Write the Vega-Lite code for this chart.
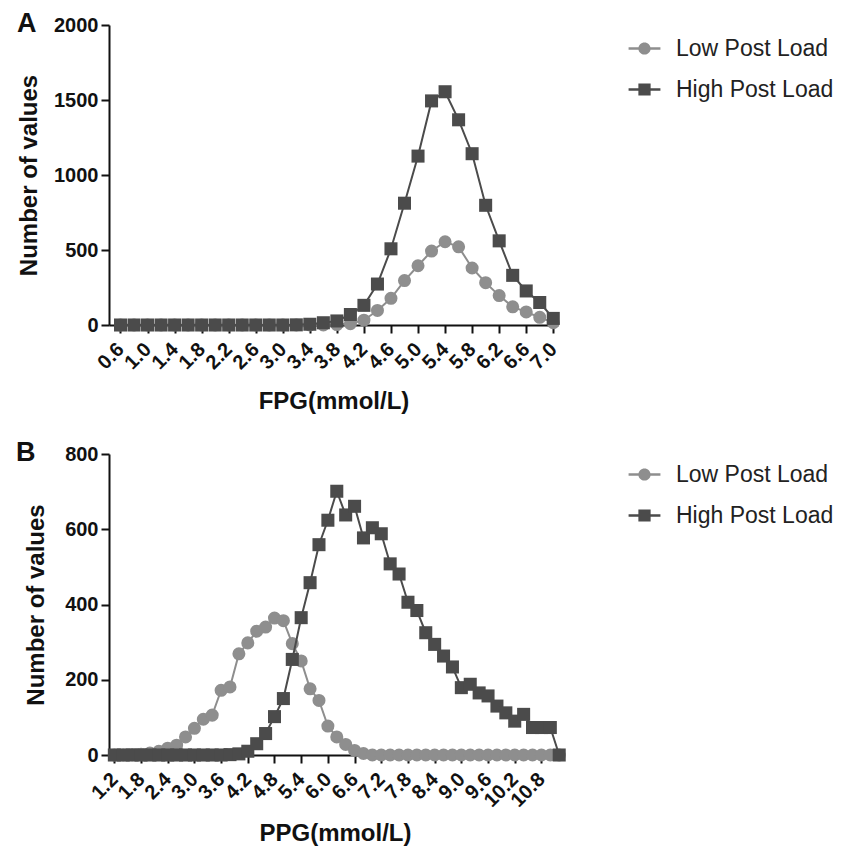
{
  "$schema": "https://vega.github.io/schema/vega-lite/v6.json",
  "background": "white",
  "padding": {"left": 16, "top": 10, "right": 5, "bottom": 5},
  "config": {
    "font": "Liberation Sans",
    "view": {"stroke": null},
    "axis": {
      "grid": false,
      "domainColor": "#111111",
      "domainWidth": 2,
      "tickColor": "#111111",
      "tickWidth": 2,
      "tickSize": 8,
      "labelFont": "Liberation Sans",
      "labelFontSize": 20,
      "labelFontWeight": "bold",
      "labelColor": "#111111",
      "labelPadding": 3,
      "labelOverlap": false,
      "titleFont": "Liberation Sans",
      "titleFontSize": 24,
      "titleFontWeight": "bold",
      "titleColor": "#111111"
    },
    "title": {
      "font": "Liberation Sans",
      "fontSize": 27,
      "fontWeight": "bold",
      "color": "#111111",
      "anchor": "start",
      "frame": "bounds",
      "offset": -23,
      "baseline": "alphabetic"
    }
  },
  "datasets": {
    "fpg": [
      {"x": 0.6, "series": "Low Post Load", "n": 0}, {"x": 0.8, "series": "Low Post Load", "n": 0},
      {"x": 1.0, "series": "Low Post Load", "n": 0}, {"x": 1.2, "series": "Low Post Load", "n": 0},
      {"x": 1.4, "series": "Low Post Load", "n": 0}, {"x": 1.6, "series": "Low Post Load", "n": 0},
      {"x": 1.8, "series": "Low Post Load", "n": 0}, {"x": 2.0, "series": "Low Post Load", "n": 0},
      {"x": 2.2, "series": "Low Post Load", "n": 0}, {"x": 2.4, "series": "Low Post Load", "n": 0},
      {"x": 2.6, "series": "Low Post Load", "n": 0}, {"x": 2.8, "series": "Low Post Load", "n": 0},
      {"x": 3.0, "series": "Low Post Load", "n": 0}, {"x": 3.2, "series": "Low Post Load", "n": 0},
      {"x": 3.4, "series": "Low Post Load", "n": 0}, {"x": 3.6, "series": "Low Post Load", "n": 0},
      {"x": 3.8, "series": "Low Post Load", "n": 3}, {"x": 4.0, "series": "Low Post Load", "n": 9},
      {"x": 4.2, "series": "Low Post Load", "n": 32}, {"x": 4.4, "series": "Low Post Load", "n": 97},
      {"x": 4.6, "series": "Low Post Load", "n": 178}, {"x": 4.8, "series": "Low Post Load", "n": 296},
      {"x": 5.0, "series": "Low Post Load", "n": 395}, {"x": 5.2, "series": "Low Post Load", "n": 493},
      {"x": 5.4, "series": "Low Post Load", "n": 555}, {"x": 5.6, "series": "Low Post Load", "n": 521},
      {"x": 5.8, "series": "Low Post Load", "n": 380}, {"x": 6.0, "series": "Low Post Load", "n": 282},
      {"x": 6.2, "series": "Low Post Load", "n": 196}, {"x": 6.4, "series": "Low Post Load", "n": 121},
      {"x": 6.6, "series": "Low Post Load", "n": 87}, {"x": 6.8, "series": "Low Post Load", "n": 51},
      {"x": 7.0, "series": "Low Post Load", "n": 15},
      {"x": 0.6, "series": "High Post Load", "n": 0}, {"x": 0.8, "series": "High Post Load", "n": 0},
      {"x": 1.0, "series": "High Post Load", "n": 0}, {"x": 1.2, "series": "High Post Load", "n": 0},
      {"x": 1.4, "series": "High Post Load", "n": 0}, {"x": 1.6, "series": "High Post Load", "n": 0},
      {"x": 1.8, "series": "High Post Load", "n": 0}, {"x": 2.0, "series": "High Post Load", "n": 0},
      {"x": 2.2, "series": "High Post Load", "n": 0}, {"x": 2.4, "series": "High Post Load", "n": 0},
      {"x": 2.6, "series": "High Post Load", "n": 0}, {"x": 2.8, "series": "High Post Load", "n": 0},
      {"x": 3.0, "series": "High Post Load", "n": 0}, {"x": 3.2, "series": "High Post Load", "n": 1},
      {"x": 3.4, "series": "High Post Load", "n": 5}, {"x": 3.6, "series": "High Post Load", "n": 15},
      {"x": 3.8, "series": "High Post Load", "n": 27}, {"x": 4.0, "series": "High Post Load", "n": 70},
      {"x": 4.2, "series": "High Post Load", "n": 131}, {"x": 4.4, "series": "High Post Load", "n": 273},
      {"x": 4.6, "series": "High Post Load", "n": 508}, {"x": 4.8, "series": "High Post Load", "n": 812},
      {"x": 5.0, "series": "High Post Load", "n": 1126}, {"x": 5.2, "series": "High Post Load", "n": 1494},
      {"x": 5.4, "series": "High Post Load", "n": 1555}, {"x": 5.6, "series": "High Post Load", "n": 1368},
      {"x": 5.8, "series": "High Post Load", "n": 1142}, {"x": 6.0, "series": "High Post Load", "n": 798},
      {"x": 6.2, "series": "High Post Load", "n": 561}, {"x": 6.4, "series": "High Post Load", "n": 331},
      {"x": 6.6, "series": "High Post Load", "n": 227}, {"x": 6.8, "series": "High Post Load", "n": 150},
      {"x": 7.0, "series": "High Post Load", "n": 44}
    ],
    "ppg": [
      {"x": 1.2, "series": "Low Post Load", "n": 0}, {"x": 1.4, "series": "Low Post Load", "n": 0},
      {"x": 1.6, "series": "Low Post Load", "n": 1}, {"x": 1.8, "series": "Low Post Load", "n": 2},
      {"x": 2.0, "series": "Low Post Load", "n": 5}, {"x": 2.2, "series": "Low Post Load", "n": 10},
      {"x": 2.4, "series": "Low Post Load", "n": 18}, {"x": 2.6, "series": "Low Post Load", "n": 26},
      {"x": 2.8, "series": "Low Post Load", "n": 48}, {"x": 3.0, "series": "Low Post Load", "n": 71},
      {"x": 3.2, "series": "Low Post Load", "n": 95}, {"x": 3.4, "series": "Low Post Load", "n": 106},
      {"x": 3.6, "series": "Low Post Load", "n": 172}, {"x": 3.8, "series": "Low Post Load", "n": 181},
      {"x": 4.0, "series": "Low Post Load", "n": 269}, {"x": 4.2, "series": "Low Post Load", "n": 298},
      {"x": 4.4, "series": "Low Post Load", "n": 329}, {"x": 4.6, "series": "Low Post Load", "n": 340},
      {"x": 4.8, "series": "Low Post Load", "n": 364}, {"x": 5.0, "series": "Low Post Load", "n": 357},
      {"x": 5.2, "series": "Low Post Load", "n": 296}, {"x": 5.4, "series": "Low Post Load", "n": 250},
      {"x": 5.6, "series": "Low Post Load", "n": 176}, {"x": 5.8, "series": "Low Post Load", "n": 145},
      {"x": 6.0, "series": "Low Post Load", "n": 77}, {"x": 6.2, "series": "Low Post Load", "n": 48},
      {"x": 6.4, "series": "Low Post Load", "n": 28}, {"x": 6.6, "series": "Low Post Load", "n": 12},
      {"x": 6.8, "series": "Low Post Load", "n": 4}, {"x": 7.0, "series": "Low Post Load", "n": 0},
      {"x": 7.2, "series": "Low Post Load", "n": 0}, {"x": 7.4, "series": "Low Post Load", "n": 0},
      {"x": 7.6, "series": "Low Post Load", "n": 0}, {"x": 7.8, "series": "Low Post Load", "n": 0},
      {"x": 8.0, "series": "Low Post Load", "n": 0}, {"x": 8.2, "series": "Low Post Load", "n": 0},
      {"x": 8.4, "series": "Low Post Load", "n": 0}, {"x": 8.6, "series": "Low Post Load", "n": 0},
      {"x": 8.8, "series": "Low Post Load", "n": 0}, {"x": 9.0, "series": "Low Post Load", "n": 0},
      {"x": 9.2, "series": "Low Post Load", "n": 0}, {"x": 9.4, "series": "Low Post Load", "n": 0},
      {"x": 9.6, "series": "Low Post Load", "n": 0}, {"x": 9.8, "series": "Low Post Load", "n": 0},
      {"x": 10.0, "series": "Low Post Load", "n": 0}, {"x": 10.2, "series": "Low Post Load", "n": 0},
      {"x": 10.4, "series": "Low Post Load", "n": 0}, {"x": 10.6, "series": "Low Post Load", "n": 0},
      {"x": 10.8, "series": "Low Post Load", "n": 0}, {"x": 11.0, "series": "Low Post Load", "n": 0},
      {"x": 11.2, "series": "Low Post Load", "n": 0},
      {"x": 1.2, "series": "High Post Load", "n": 0}, {"x": 1.4, "series": "High Post Load", "n": 0},
      {"x": 1.6, "series": "High Post Load", "n": 0}, {"x": 1.8, "series": "High Post Load", "n": 0},
      {"x": 2.0, "series": "High Post Load", "n": 0}, {"x": 2.2, "series": "High Post Load", "n": 0},
      {"x": 2.4, "series": "High Post Load", "n": 0}, {"x": 2.6, "series": "High Post Load", "n": 0},
      {"x": 2.8, "series": "High Post Load", "n": 0}, {"x": 3.0, "series": "High Post Load", "n": 0},
      {"x": 3.2, "series": "High Post Load", "n": 0}, {"x": 3.4, "series": "High Post Load", "n": 0},
      {"x": 3.6, "series": "High Post Load", "n": 0}, {"x": 3.8, "series": "High Post Load", "n": 1},
      {"x": 4.0, "series": "High Post Load", "n": 3}, {"x": 4.2, "series": "High Post Load", "n": 10},
      {"x": 4.4, "series": "High Post Load", "n": 30}, {"x": 4.6, "series": "High Post Load", "n": 57},
      {"x": 4.8, "series": "High Post Load", "n": 102}, {"x": 5.0, "series": "High Post Load", "n": 150},
      {"x": 5.2, "series": "High Post Load", "n": 254}, {"x": 5.4, "series": "High Post Load", "n": 365},
      {"x": 5.6, "series": "High Post Load", "n": 458}, {"x": 5.8, "series": "High Post Load", "n": 559},
      {"x": 6.0, "series": "High Post Load", "n": 624}, {"x": 6.2, "series": "High Post Load", "n": 701},
      {"x": 6.4, "series": "High Post Load", "n": 638}, {"x": 6.6, "series": "High Post Load", "n": 661},
      {"x": 6.8, "series": "High Post Load", "n": 577}, {"x": 7.0, "series": "High Post Load", "n": 604},
      {"x": 7.2, "series": "High Post Load", "n": 588}, {"x": 7.4, "series": "High Post Load", "n": 508},
      {"x": 7.6, "series": "High Post Load", "n": 481}, {"x": 7.8, "series": "High Post Load", "n": 406},
      {"x": 8.0, "series": "High Post Load", "n": 384}, {"x": 8.2, "series": "High Post Load", "n": 325},
      {"x": 8.4, "series": "High Post Load", "n": 294}, {"x": 8.6, "series": "High Post Load", "n": 263},
      {"x": 8.8, "series": "High Post Load", "n": 234}, {"x": 9.0, "series": "High Post Load", "n": 179},
      {"x": 9.2, "series": "High Post Load", "n": 188}, {"x": 9.4, "series": "High Post Load", "n": 165},
      {"x": 9.6, "series": "High Post Load", "n": 157}, {"x": 9.8, "series": "High Post Load", "n": 130},
      {"x": 10.0, "series": "High Post Load", "n": 112}, {"x": 10.2, "series": "High Post Load", "n": 90},
      {"x": 10.4, "series": "High Post Load", "n": 108}, {"x": 10.6, "series": "High Post Load", "n": 73},
      {"x": 10.8, "series": "High Post Load", "n": 73}, {"x": 11.0, "series": "High Post Load", "n": 73},
      {"x": 11.2, "series": "High Post Load", "n": 0}
    ]
  },
  "columns": 1,
  "spacing": 25,
  "resolve": {
    "scale": {"color": "independent", "shape": "independent"},
    "legend": {"color": "independent", "shape": "independent"}
  },
  "concat": [
    {
      "title": {"text": "A"},
      "width": 449,
      "height": 300,
      "data": {"name": "fpg"},
      "encoding": {
        "x": {
          "field": "x", "type": "quantitative",
          "scale": {"domain": [0.43, 7.07], "nice": false, "zero": false},
          "axis": {"title": "FPG(mmol/L)", "values": [0.6, 1.0, 1.4, 1.8, 2.2, 2.6, 3.0, 3.4, 3.8, 4.2, 4.6, 5.0, 5.4, 5.8, 6.2, 6.6, 7.0], "format": ".1f", "labelAngle": -45, "labelAlign": "right", "labelBaseline": "middle", "titlePadding": 17, "labelPadding": 13}
        },
        "y": {
          "field": "n", "type": "quantitative",
          "scale": {"domain": [0, 2000], "nice": false},
          "axis": {"title": "Number of values", "values": [0, 500, 1000, 1500, 2000], "format": "d", "titlePadding": 12.5}
        }
      },
      "layer": [
        {"transform": [{"filter": "datum.series === 'Low Post Load'"}], "mark": {"type": "line", "color": "#8e8e8e", "strokeWidth": 2}},
        {"transform": [{"filter": "datum.series === 'Low Post Load'"}], "mark": {"type": "point", "shape": "circle", "filled": true, "size": 170, "color": "#8e8e8e", "opacity": 1}},
        {"transform": [{"filter": "datum.series === 'High Post Load'"}], "mark": {"type": "line", "color": "#4b4b4b", "strokeWidth": 2}},
        {"transform": [{"filter": "datum.series === 'High Post Load'"}], "mark": {"type": "point", "shape": "square", "filled": true, "size": 170, "color": "#4b4b4b", "opacity": 1}},
        {
          "transform": [{"filter": "false"}],
          "mark": {"type": "point", "filled": true, "size": 150, "opacity": 1},
          "encoding": {
            "x": null, "y": null,
            "color": {"field": "series", "type": "nominal", "scale": {"domain": ["Low Post Load", "High Post Load"], "range": ["#8e8e8e", "#4b4b4b"]},
              "legend": {"orient": "none", "legendX": 524, "legendY": 12, "title": null, "symbolSize": 150, "symbolStrokeWidth": 0, "labelFont": "Liberation Sans", "labelFontSize": 23, "labelColor": "#222222", "labelOffset": 20, "rowPadding": 17, "padding": 0}},
            "shape": {"field": "series", "type": "nominal", "scale": {"domain": ["Low Post Load", "High Post Load"], "range": ["M-2.6,-0.2H-0.9V0.2H-2.6Z M0.9,-0.2H2.6V0.2H0.9Z M-1,0A1,1,0,1,1,1,0A1,1,0,1,1,-1,0Z", "M-2.6,-0.2H-0.9V0.2H-2.6Z M0.9,-0.2H2.6V0.2H0.9Z M-1,-1H1V1H-1Z"]},
              "legend": {"orient": "none", "legendX": 524, "legendY": 12, "title": null, "symbolSize": 150, "symbolStrokeWidth": 0, "labelFont": "Liberation Sans", "labelFontSize": 23, "labelColor": "#222222", "labelOffset": 20, "rowPadding": 17, "padding": 0}}
          }
        }
      ]
    },
    {
      "title": {"text": "B", "dx": -8},
      "width": 452,
      "height": 301,
      "data": {"name": "ppg"},
      "encoding": {
        "x": {
          "field": "x", "type": "quantitative",
          "scale": {"domain": [1.08, 11.24], "nice": false, "zero": false},
          "axis": {"title": "PPG(mmol/L)", "values": [1.2, 1.8, 2.4, 3.0, 3.6, 4.2, 4.8, 5.4, 6.0, 6.6, 7.2, 7.8, 8.4, 9.0, 9.6, 10.2, 10.8], "format": ".1f", "labelAngle": -45, "labelAlign": "right", "labelBaseline": "middle", "titlePadding": 11, "labelPadding": 13}
        },
        "y": {
          "field": "n", "type": "quantitative",
          "scale": {"domain": [0, 800], "nice": false},
          "axis": {"title": "Number of values", "values": [0, 200, 400, 600, 800], "format": "d", "titlePadding": 16.6}
        }
      },
      "layer": [
        {"transform": [{"filter": "datum.series === 'Low Post Load'"}], "mark": {"type": "line", "color": "#8e8e8e", "strokeWidth": 2}},
        {"transform": [{"filter": "datum.series === 'Low Post Load'"}], "mark": {"type": "point", "shape": "circle", "filled": true, "size": 170, "color": "#8e8e8e", "opacity": 1}},
        {"transform": [{"filter": "datum.series === 'High Post Load'"}], "mark": {"type": "line", "color": "#4b4b4b", "strokeWidth": 2}},
        {"transform": [{"filter": "datum.series === 'High Post Load'"}], "mark": {"type": "point", "shape": "square", "filled": true, "size": 170, "color": "#4b4b4b", "opacity": 1}},
        {
          "transform": [{"filter": "false"}],
          "mark": {"type": "point", "filled": true, "size": 150, "opacity": 1},
          "encoding": {
            "x": null, "y": null,
            "color": {"field": "series", "type": "nominal", "scale": {"domain": ["Low Post Load", "High Post Load"], "range": ["#8e8e8e", "#4b4b4b"]},
              "legend": {"orient": "none", "legendX": 524, "legendY": 9, "title": null, "symbolSize": 150, "symbolStrokeWidth": 0, "labelFont": "Liberation Sans", "labelFontSize": 23, "labelColor": "#222222", "labelOffset": 20, "rowPadding": 17, "padding": 0}},
            "shape": {"field": "series", "type": "nominal", "scale": {"domain": ["Low Post Load", "High Post Load"], "range": ["M-2.6,-0.2H-0.9V0.2H-2.6Z M0.9,-0.2H2.6V0.2H0.9Z M-1,0A1,1,0,1,1,1,0A1,1,0,1,1,-1,0Z", "M-2.6,-0.2H-0.9V0.2H-2.6Z M0.9,-0.2H2.6V0.2H0.9Z M-1,-1H1V1H-1Z"]},
              "legend": {"orient": "none", "legendX": 524, "legendY": 9, "title": null, "symbolSize": 150, "symbolStrokeWidth": 0, "labelFont": "Liberation Sans", "labelFontSize": 23, "labelColor": "#222222", "labelOffset": 20, "rowPadding": 17, "padding": 0}}
          }
        }
      ]
    }
  ]
}
